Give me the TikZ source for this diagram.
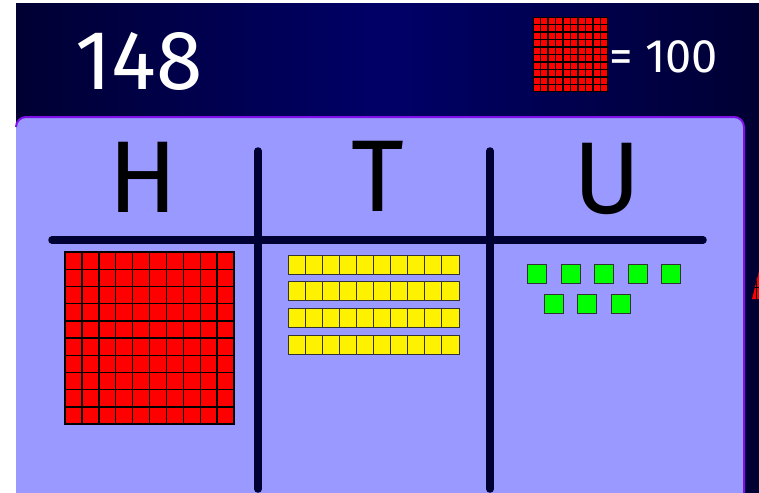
\documentclass[tikz,border=0pt]{standalone}
\usepackage{fontspec}
\setmainfont{Fira Sans}
\definecolor{bgdark}{HTML}{000033}
\definecolor{bgmid}{HTML}{000068}
\definecolor{panel}{HTML}{9999FF}
\definecolor{panelrim}{HTML}{8010E8}
\definecolor{gridline}{HTML}{000033}
\definecolor{cellrim}{HTML}{333333}
\tikzset{
  bigtext/.style={text=white, inner sep=0pt, anchor=base west},
  headtext/.style={text=black, inner sep=0pt, anchor=base},
  divline/.style={draw=gridline, line width=7.5pt, line cap=round},
  redcell/.style={fill=red, draw=black, line width=1.4pt},
  yelcell/.style={fill=yellow, draw=cellrim, line width=0.9pt},
  grncell/.style={fill=green, draw=cellrim, line width=1pt},
}
\begin{document}
\begin{tikzpicture}[x=1pt, y=-1pt]
\useasboundingbox (0,0) rectangle (759,492);
\fill[white] (0,0) rectangle (759,492);
% dark background
\shade[left color=bgdark, right color=bgdark, middle color=bgmid] (16,4) rectangle (759,492);
% panel
\begin{scope}
\clip (0,0) rectangle (759,492);
\fill[panel, rounded corners=10pt] (16,530) -- (16,117) -- (744,117) -- (744,530) -- cycle;
\draw[panelrim, line width=2pt, rounded corners=10pt] (16,127) -- (16,117) -- (744,117) -- (744,530);
\end{scope}
% title texts
\node[bigtext, font=\fontsize{84}{84}\selectfont] (num) at (75,89) {148};
\node[bigtext, font=\fontsize{47}{47}\selectfont] (eq) at (609,73) {= 100};
% small hundred icon
\fill[black] (533,17) rectangle (608,92);
\foreach \i in {0,...,9}{
  \foreach \j in {0,...,9}{
    \fill[red] ({533.8+7.5*\i},{17.8+7.5*\j}) rectangle ++(6.1,6.1);
  }
}
% headings
\node[headtext, font=\fontsize{102}{102}\selectfont] (hH) at (143,212) {H};
\node[headtext, font=\fontsize{102}{102}\selectfont] (hT) at (378,211) {T};
\node[headtext, font=\fontsize{102}{102}\selectfont] (hU) at (607,213) {U};
% grid lines
\coordinate (hl) at (52,240);
\coordinate (hr) at (703,240);
\coordinate (v1t) at (258,151);
\coordinate (v1b) at (258,489);
\coordinate (v2t) at (490,151);
\coordinate (v2b) at (490,489);
\draw[divline] (hl) -- (hr);
\draw[divline] (v1t) -- (v1b);
\draw[divline] (v2t) -- (v2b);
% hundreds square
\foreach \i in {0,...,9}{
  \foreach \j in {0,...,9}{
    \draw[redcell] ({65+16.9*\i},{252+17.2*\j}) rectangle ++(16.9,17.2);
  }
}
% tens rods
\foreach \r in {0,...,3}{
  \foreach \i in {0,...,9}{
    \draw[yelcell] ({288+17.1*\i},{255+26.8*\r}) rectangle ++(17.1,19);
  }
}
% units
\foreach \x in {527,561,594,628,661}{
  \draw[grncell] (\x,264) rectangle ++(19,19);
}
\foreach \x in {544,577,611}{
  \draw[grncell] (\x,294) rectangle ++(19,19);
}
% partial red shape at right edge
\fill[red] (752,299) -- (759,299) -- (759,271) -- cycle;
\draw[black, line width=0.8pt] (755,287) -- (759,287);
\draw[black, line width=0.8pt] (756,281) -- (756,299);
\end{tikzpicture}
\end{document}
